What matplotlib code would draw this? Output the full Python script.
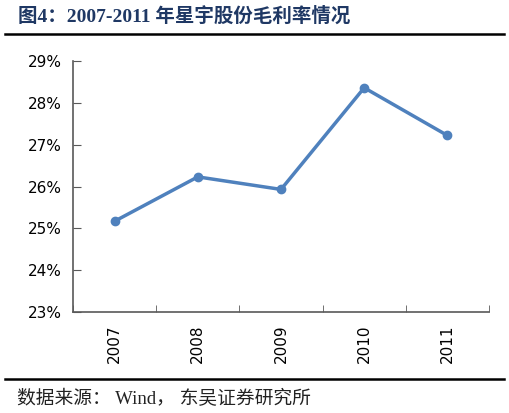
import numpy as np
import matplotlib.pyplot as plt
from matplotlib.lines import Line2D
from matplotlib.ticker import FuncFormatter

years = ['2007', '2008', '2009', '2010', '2011']
margin = [25.17, 26.23, 25.93, 28.36, 27.22]

plt.rcParams['font.family'] = ['DejaVu Sans', 'Noto Sans CJK SC']
serif_cjk = ['Liberation Serif', 'Noto Sans CJK SC']

fig = plt.figure(figsize=(5.1, 4.13), dpi=100)
ax = fig.add_axes([73 / 510, 1 - 312 / 413, (489 - 73) / 510, (312 - 61) / 413])

x = np.arange(len(years))
ax.plot(x, margin, color='#4F81BD', lw=2.5, marker='o', ms=6, solid_capstyle='round')

ax.set_xlim(-0.5, len(years) - 0.5)
ax.set_ylim(23, 29)
ax.set_yticks(np.arange(23, 30, 1))
ax.yaxis.set_major_formatter(FuncFormatter(lambda v, p: f'{v:.0f}%'))
ax.set_xticks(x)
ax.set_xticklabels(years, rotation=90)
ax.set_xticks(np.arange(-0.5, len(years)), minor=True)

ax.tick_params(axis='x', which='major', length=0, pad=9, labelsize=11)
ax.tick_params(axis='x', which='minor', direction='in', length=5, color='#595959')
ax.tick_params(axis='y', direction='in', length=6, color='#595959', labelsize=11, pad=8)
for s in ['top', 'right']:
    ax.spines[s].set_visible(False)
for s in ['left', 'bottom']:
    ax.spines[s].set_color('#595959')
    ax.spines[s].set_linewidth(1.2)

fig.text(18 / 510, 1 - 16 / 413, '图4：2007-2011 年星宇股份毛利率情况', fontsize=14,
         fontweight='bold', color='#1F3864', va='center', ha='left', family=serif_cjk)
fig.add_artist(Line2D([5 / 510, 504 / 510], [1 - 34 / 413] * 2, color='black', lw=1.8))
fig.add_artist(Line2D([5 / 510, 504 / 510], [1 - 379 / 413] * 2, color='black', lw=1.8))
fig.text(17 / 510, 1 - 399 / 413, '数据来源： Wind， 东吴证券研究所', fontsize=13.5,
         color='#222222', va='center', ha='left', family=serif_cjk)

fig.savefig('out.png', dpi=100)
